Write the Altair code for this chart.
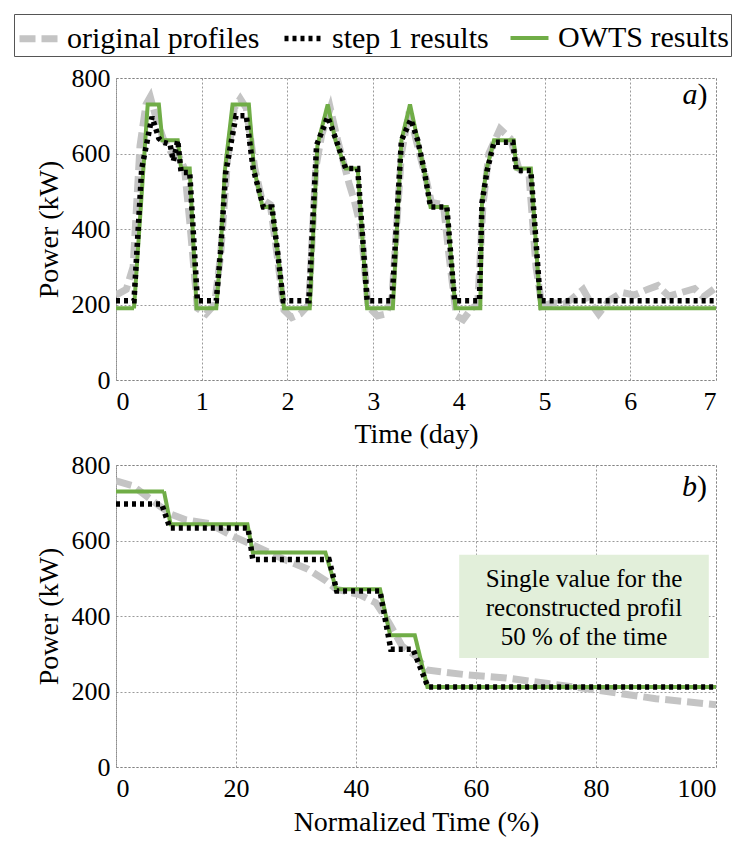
import altair as alt
import pandas as pd

FONT = "Liberation Serif"
SERIES = ["original profiles", "step 1 results", "OWTS results"]
COLORS = ["#c4c4c4", "#000000", "#70ad47"]
DASHES = [[16, 6], [4, 4], [1, 0]]
WIDTHS = [7, 4, 4]

# ---- panel a) : weekly profiles (time in days, power in kW)
t_org = [0, 0.12, 0.2, 0.28, 0.35, 0.40, 0.46, 0.55, 0.65, 0.72, 0.80, 0.86, 0.95, 1.05, 1.15,
         1.22, 1.30, 1.38, 1.45, 1.52, 1.62, 1.70, 1.80, 1.88, 1.96, 2.05, 2.15, 2.25, 2.33, 2.40,
         2.50, 2.58, 2.72, 2.78, 2.86, 2.94, 3.05, 3.15, 3.22, 3.33, 3.42, 3.53, 3.62, 3.68, 3.82,
         3.88, 3.97, 4.05, 4.15, 4.22, 4.28, 4.35, 4.48, 4.60, 4.70, 4.82, 4.90, 4.97, 5.10, 5.22,
         5.32, 5.45, 5.55, 5.63, 5.75, 5.90, 6.05, 6.20, 6.32, 6.45, 6.60, 6.75, 6.85, 7.0]
p_org = [225, 240, 300, 620, 730, 750, 700, 640, 600, 600, 560, 420, 190, 175, 200,
         330, 580, 720, 745, 720, 560, 480, 465, 330, 185, 165, 175, 200, 560, 650,
         720, 640, 520, 475, 400, 195, 170, 175, 220, 600, 710, 610, 530, 470, 465,
         340, 170, 160, 190, 200, 460, 600, 665, 640, 560, 540, 300, 195, 205, 200,
         215, 240, 200, 175, 210, 232, 225, 240, 250, 222, 232, 242, 220, 245]

t_step = [0, 0.21, 0.30, 0.42, 0.50, 0.55, 0.63, 0.67, 0.72, 0.76, 0.86, 0.95,
          1.17, 1.22, 1.28, 1.40, 1.52, 1.60, 1.72, 1.82, 1.89, 1.95,
          2.25, 2.34, 2.47, 2.57, 2.68, 2.82, 2.93,
          3.22, 3.33, 3.44, 3.52, 3.60, 3.67, 3.86, 3.95,
          4.24, 4.27, 4.33, 4.41, 4.63, 4.67, 4.84, 4.95, 7.0]
p_step = [210, 210, 560, 697, 640, 630, 625, 580, 635, 550, 550, 210,
          210, 340, 550, 700, 700, 560, 458, 458, 330, 210,
          210, 622, 697, 635, 560, 560, 210,
          210, 635, 690, 635, 550, 458, 458, 210,
          210, 470, 555, 630, 630, 555, 555, 210, 210]

t_owts = [0, 0.21, 0.37, 0.50, 0.54, 0.72, 0.76, 0.86, 0.94,
          1.17, 1.22, 1.27, 1.36, 1.55, 1.61, 1.71, 1.82, 1.89, 1.96,
          2.26, 2.35, 2.47, 2.56, 2.68, 2.82, 2.93,
          3.23, 3.33, 3.43, 3.52, 3.60, 3.67, 3.86, 3.96,
          4.25, 4.27, 4.32, 4.41, 4.64, 4.67, 4.84, 4.95, 7.0]
p_owts = [190, 190, 730, 730, 635, 635, 560, 560, 190,
          190, 340, 555, 730, 730, 560, 458, 458, 330, 190,
          190, 622, 730, 635, 560, 560, 190,
          190, 635, 730, 635, 550, 458, 458, 190,
          190, 470, 555, 635, 635, 560, 560, 190, 190]

# ---- panel b) : load duration curves (normalized time in %)
n_org = [0, 2.8, 7.2, 9.1, 11.6, 15.5, 19.4, 23.8, 28, 32, 35, 36.7, 40.5, 43.3, 45.5,
         47.7, 49.9, 51.8, 58, 65, 72, 80, 90, 100]
d_org = [758, 745, 692, 670, 655, 645, 612, 581, 550, 524, 493, 471, 457, 435, 382,
         320, 295, 257, 245, 236, 221, 204, 181, 165]
n_step = [0, 7.6, 9.0, 22.0, 22.8, 35.5, 36.8, 44.0, 45.8, 49.5, 52.0, 100]
d_step = [697, 697, 633, 633, 550, 550, 466, 466, 312, 312, 212, 212]
n_owts = [0, 8.0, 9.1, 21.9, 22.8, 34.9, 36.7, 44.0, 45.7, 49.8, 51.9, 100]
d_owts = [730, 730, 643, 643, 568, 568, 471, 471, 349, 349, 212, 212]

note_lines = "Single value for the\nreconstructed profil\n50 % of the time"
note_box = {"t": [57.2], "t2": [98.8], "p": [289], "p2": [562]}
note_pos = {"t": [78.0], "p": [498]}
label_a = {"t": [6.9], "p": [731]}
label_b = {"t": [98.5], "p": [718]}

W, H = 600, 302


def frame(t, p, s):
    return pd.DataFrame({"t": t, "p": p, "series": s})


def line_layers(frames, show_legend):
    leg = alt.Legend(
        title=None, orient="none", direction="horizontal", columns=3,
        legendX=-102, legendY=-64, labelFont=FONT, labelFontSize=30, labelLimit=0,
        labelColor="black", symbolType="stroke", symbolSize=1444,
        labelOffset=6, columnPadding=13, padding=2,
        strokeColor="#555555", fillColor="white",
    ) if show_legend else None
    layers = []
    for df in frames:
        layers.append(
            alt.Chart(df).mark_line(clip=True).encode(
                color=alt.Color("series:N", scale=alt.Scale(domain=SERIES, range=COLORS), legend=leg),
                strokeDash=alt.StrokeDash("series:N", scale=alt.Scale(domain=SERIES, range=DASHES), legend=leg),
                strokeWidth=alt.StrokeWidth("series:N", scale=alt.Scale(domain=SERIES, range=WIDTHS), legend=leg),
            )
        )
    return layers


def panel_label(pos, letter):
    d = pd.DataFrame(pos)
    paren = alt.Chart(d).mark_text(font=FONT, fontSize=30, align="right", baseline="alphabetic",
                                   color="black").encode(text=alt.value(")"))
    let = alt.Chart(d).mark_text(font=FONT, fontSize=30, fontStyle="italic", align="right",
                                 baseline="alphabetic", dx=-10, color="black").encode(text=alt.value(letter))
    return [paren, let]


top_frames = [frame(t_org, p_org, SERIES[0]), frame(t_owts, p_owts, SERIES[2]), frame(t_step, p_step, SERIES[1])]
bot_frames = [frame(n_org, d_org, SERIES[0]), frame(n_owts, d_owts, SERIES[2]), frame(n_step, d_step, SERIES[1])]

axis_y = alt.Axis(values=[0, 200, 400, 600, 800], title="Power (kW)", labelPadding=6, titlePadding=8)
yenc = alt.Y("p:Q", scale=alt.Scale(domain=[0, 800], nice=False), axis=axis_y)

top = alt.layer(*line_layers(top_frames, True), *panel_label(label_a, "a")).encode(
    x=alt.X("t:Q", scale=alt.Scale(domain=[0, 7], nice=False),
            axis=alt.Axis(values=list(range(0, 8)), title="Time (day)", labelPadding=8, titlePadding=6)),
    y=yenc,
).properties(width=W, height=H)

box = alt.Chart(pd.DataFrame(note_box)).mark_rect(color="#e2efda").encode(x2="t2:Q", y2="p2:Q")
note = alt.Chart(pd.DataFrame(note_pos)).mark_text(
    font=FONT, fontSize=25, lineBreak="\n", lineHeight=29, align="center", baseline="middle", color="black"
).encode(text=alt.value(note_lines))

bottom = alt.layer(*line_layers(bot_frames, False), box, note, *panel_label(label_b, "b")).encode(
    x=alt.X("t:Q", scale=alt.Scale(domain=[0, 100], nice=False),
            axis=alt.Axis(values=[0, 20, 40, 60, 80, 100], title="Normalized Time (%)", labelPadding=8, titlePadding=7)),
    y=yenc,
).properties(width=W, height=H)

chart = alt.vconcat(top, bottom, spacing=2).resolve_scale(
    color="independent", strokeDash="independent", strokeWidth="independent"
).configure(background="white").configure_view(
    stroke="#888888", strokeDash=[2, 2], strokeWidth=1
).configure_axis(
    labelFont=FONT, titleFont=FONT, labelFontSize=26, titleFontSize=28, titleFontWeight="normal",
    labelColor="black", titleColor="black", domain=False, ticks=False,
    gridColor="#808080", gridDash=[2, 2], gridWidth=0.8,
)

chart.save("out.html", embed_options={"renderer": "svg", "actions": False})
